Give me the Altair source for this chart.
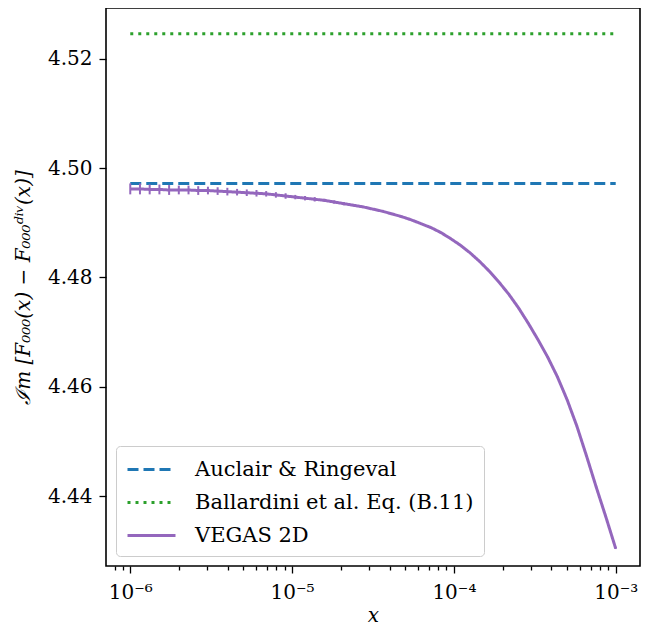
import altair as alt
import pandas as pd

# ---------------- data ----------------
series_names = ["Auclair & Ringeval", "Ballardini et al. Eq. (B.11)", "VEGAS 2D"]
series_colors = ["#1f77b4", "#2ca02c", "#9467bd"]
series_dashes = [[11, 5], [3, 5], [1, 0]]

ref_x = [1e-6, 1e-3]
auclair_value = 4.4972
ballardini_value = 4.5246

vegas_x = [
    1.000e-6, 1.148e-6, 1.318e-6, 1.514e-6, 1.738e-6, 1.995e-6, 2.291e-6, 2.630e-6, 3.020e-6, 3.467e-6,
    3.981e-6, 4.571e-6, 5.248e-6, 6.026e-6, 6.918e-6, 7.943e-6, 9.120e-6, 1.047e-5, 1.202e-5, 1.380e-5,
    1.585e-5, 1.820e-5, 2.089e-5, 2.399e-5, 2.754e-5, 3.162e-5, 3.631e-5, 4.169e-5, 4.786e-5, 5.495e-5,
    6.310e-5, 7.244e-5, 8.318e-5, 9.550e-5, 1.096e-4, 1.259e-4, 1.445e-4, 1.660e-4, 1.905e-4, 2.188e-4,
    2.512e-4, 2.884e-4, 3.311e-4, 3.802e-4, 4.365e-4, 5.012e-4, 5.754e-4, 6.607e-4, 7.586e-4, 8.710e-4,
    1.000e-3,
]
vegas_y = [
    4.4962, 4.4962, 4.4961, 4.4961, 4.4960, 4.4960, 4.4960, 4.4959, 4.4959, 4.4958,
    4.4957, 4.4956, 4.4955, 4.4954, 4.4953, 4.4951, 4.4949, 4.4947, 4.4945, 4.4943,
    4.4941, 4.4938, 4.4935, 4.4932, 4.4929, 4.4925, 4.4921, 4.4916, 4.4911, 4.4905,
    4.4898, 4.4891, 4.4882, 4.4871, 4.4859, 4.4845, 4.4829, 4.4811, 4.4791, 4.4769,
    4.4744, 4.4716, 4.4686, 4.4654, 4.4618, 4.4576, 4.4528, 4.4473, 4.4416, 4.4361,
    4.4304,
]
vegas_err = [
    0.0010, 0.0010, 0.0009, 0.0009, 0.0009, 0.0008, 0.0008, 0.0008, 0.0007, 0.0007,
    0.0007, 0.0006, 0.0006, 0.0006, 0.0005, 0.0005, 0.0005, 0.0004, 0.0004, 0.0004,
    0.0003, 0.0003, 0.0003, 0.0002, 0.0002, 0.0002, 0.00015, 0.00015, 0.00012, 0.00012,
    0.0001, 0.0001, 0.0001, 0.0001, 0.0001, 0.0001, 0.0001, 0.0001, 0.0001, 0.0001,
    0.0001, 0.0001, 0.0001, 0.0001, 0.0001, 0.0001, 0.0001, 0.0001, 0.0001, 0.0001,
    0.0001,
]

x_major = [1e-6, 1e-5, 1e-4, 1e-3]
x_major_labels = ["10⁻⁶", "10⁻⁵", "10⁻⁴", "10⁻³"]
x_minor = [8e-7, 9e-7,
           2e-6, 3e-6, 4e-6, 5e-6, 6e-6, 7e-6, 8e-6, 9e-6,
           2e-5, 3e-5, 4e-5, 5e-5, 6e-5, 7e-5, 8e-5, 9e-5,
           2e-4, 3e-4, 4e-4, 5e-4, 6e-4, 7e-4, 8e-4, 9e-4]
y_ticks = [4.44, 4.46, 4.48, 4.50, 4.52]

x_title = "x"
y_title = "ℐm [F₀₀₀(x) − F₀₀₀ᵈⁱᵛ(x)]"

# ---------------- tables ----------------
rows = []
for xv in ref_x:
    rows.append({"series": series_names[0], "x": xv, "y": auclair_value})
for xv in ref_x:
    rows.append({"series": series_names[1], "x": xv, "y": ballardini_value})
for xv, yv in zip(vegas_x, vegas_y):
    rows.append({"series": series_names[2], "x": xv, "y": yv})
lines_df = pd.DataFrame(rows)

err_df = pd.DataFrame({
    "x": vegas_x,
    "lo": [y - e for y, e in zip(vegas_y, vegas_err)],
    "hi": [y + e for y, e in zip(vegas_y, vegas_err)],
})

FONT = "DejaVu Serif"
FS = 20
LEG_FS = 21

label_expr = " : ".join(
    f"datum.value == {v!r} ? '{l}'" for v, l in zip(x_major, x_major_labels)
) + " : ''"
major_test = " || ".join(f"datum.value == {v!r}" for v in x_major)


def build(use_cond_ticks=True):
    x_scale = alt.Scale(type="log", domain=[7.08e-7, 1.413e-3], nice=False)
    y_scale = alt.Scale(domain=[4.4272, 4.5293], nice=False, zero=False)

    x_axis_kwargs = dict(
        values=x_major + x_minor,
        labelExpr=label_expr,
        labelFlush=False,
        labelOverlap=False,
        labelPadding=9,
        titleFontStyle="italic",
        titleBaseline="bottom",
        titleY=59,
    )
    if use_cond_ticks:
        x_axis_kwargs["tickSize"] = {"condition": {"test": major_test, "value": 7}, "value": 4}
    else:
        x_axis_kwargs["tickSize"] = 6
    x_axis = alt.Axis(**x_axis_kwargs)

    y_axis = alt.Axis(values=y_ticks, format=".2f", tickSize=7, labelPadding=7,
                      titleFontStyle="italic", titleAngle=270, titleBaseline="bottom",
                      titleX=-73, titleY=279)

    legend = alt.Legend(
        title=None, orient="bottom-left", offset=10, padding=10,
        fillColor="rgba(255,255,255,0.8)", strokeColor="#cccccc", cornerRadius=4,
        symbolType="M-1,0H3", symbolSize=576, symbolStrokeWidth=3,
        labelFont=FONT, labelFontSize=LEG_FS, labelColor="black", labelOffset=42,
        rowPadding=9, labelLimit=0,
    )

    lines = alt.Chart(lines_df).mark_line(strokeWidth=3, strokeCap="butt").encode(
        x=alt.X("x:Q", scale=x_scale, axis=x_axis, title=x_title),
        y=alt.Y("y:Q", scale=y_scale, axis=y_axis, title=y_title),
        color=alt.Color("series:N", scale=alt.Scale(domain=series_names, range=series_colors), legend=legend),
        strokeDash=alt.StrokeDash("series:N", scale=alt.Scale(domain=series_names, range=series_dashes), legend=legend),
        order=alt.Order("x:Q"),
    )

    errs = alt.Chart(err_df).mark_rule(color=series_colors[2], strokeWidth=2).encode(
        x=alt.X("x:Q", scale=x_scale),
        y=alt.Y("lo:Q", scale=y_scale),
        y2="hi:Q",
    )

    chart = alt.layer(lines, errs).properties(
        width=534, height=558,
        autosize=alt.AutoSizeParams(type="none"),
        padding={"left": 98, "top": 0, "right": 11, "bottom": 60},
        background="white",
    ).configure_view(
        stroke="black", strokeWidth=1.6, fill="white"
    ).configure_axis(
        domain=False, grid=False, ticks=True, tickColor="black", tickWidth=1.3,
        labelFont=FONT, labelFontSize=FS, labelColor="black",
        titleFont=FONT, titleFontSize=FS, titleFontWeight="normal", titleColor="black",
    ).configure_legend(
        labelFont=FONT
    )
    chart.to_dict()
    return chart


try:
    chart = build(True)
except Exception:
    chart = build(False)

chart.save("out.html", embed_options={"renderer": "svg", "actions": False})
